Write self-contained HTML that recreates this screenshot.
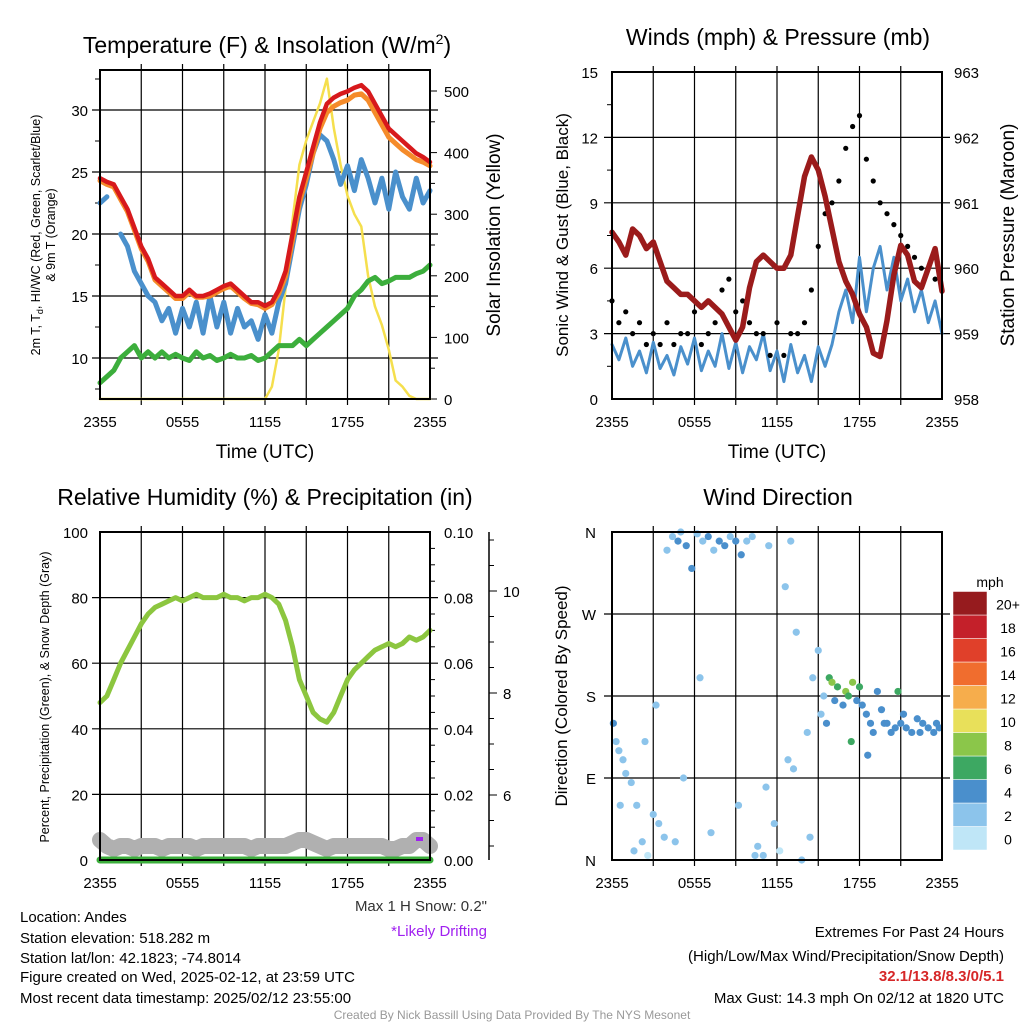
<!DOCTYPE html>
<html><head><meta charset="utf-8"><style>
body{margin:0;background:#fff;}
svg{display:block;font-family:"Liberation Sans",sans-serif;}
</style></head><body>
<svg id="c" width="1024" height="1024" viewBox="0 0 1024 1024">
<g id="txt" font-size="15" fill="#000">
<text x="267" y="53" text-anchor="middle" font-size="23">Temperature (F) &amp; Insolation (W/m<tspan dy="-9" font-size="14">2</tspan><tspan dy="9">)</tspan></text>
<text x="778" y="45" text-anchor="middle" font-size="23">Winds (mph) &amp; Pressure (mb)</text>
<text x="265" y="505" text-anchor="middle" font-size="23">Relative Humidity (%) &amp; Precipitation (in)</text>
<text x="778" y="505" text-anchor="middle" font-size="23">Wind Direction</text>
<text x="265" y="458" text-anchor="middle" font-size="19">Time (UTC)</text>
<text x="777" y="458" text-anchor="middle" font-size="19">Time (UTC)</text>
<text transform="translate(40,235) rotate(-90)" text-anchor="middle" font-size="12.5">2m T, T<tspan font-size="9" dy="3">d</tspan><tspan dy="-3">, HI/WC (Red, Green, Scarlet/Blue)</tspan></text>
<text transform="translate(55,235) rotate(-90)" text-anchor="middle" font-size="12.5">&amp; 9m T (Orange)</text>
<text transform="translate(500,235) rotate(-90)" text-anchor="middle" font-size="19">Solar Insolation (Yellow)</text>
<text transform="translate(568,235) rotate(-90)" text-anchor="middle" font-size="17">Sonic Wind &amp; Gust (Blue, Black)</text>
<text transform="translate(1014,235) rotate(-90)" text-anchor="middle" font-size="19">Station Pressure (Maroon)</text>
<text transform="translate(49,697) rotate(-90)" text-anchor="middle" font-size="12.5">Percent, Precipitation (Green), &amp; Snow Depth (Gray)</text>
<text transform="translate(567,696) rotate(-90)" text-anchor="middle" font-size="17">Direction (Colored By Speed)</text>
<text x="487" y="911" text-anchor="end" fill="#333">Max 1 H Snow: 0.2"</text>
<text x="487" y="936" text-anchor="end" fill="#a020f0">*Likely Drifting</text>
<text x="20" y="922">Location: Andes</text>
<text x="20" y="943">Station elevation: 518.282 m</text>
<text x="20" y="963">Station lat/lon: 42.1823; -74.8014</text>
<text x="20" y="982">Figure created on Wed, 2025-02-12, at 23:59 UTC</text>
<text x="20" y="1003">Most recent data timestamp: 2025/02/12 23:55:00</text>
<text x="1004" y="937" text-anchor="end">Extremes For Past 24 Hours</text>
<text x="1004" y="961" text-anchor="end">(High/Low/Max Wind/Precipitation/Snow Depth)</text>
<text x="1004" y="981" text-anchor="end" fill="#d62728" font-weight="bold">32.1/13.8/8.3/0/5.1</text>
<text x="1004" y="1003" text-anchor="end">Max Gust: 14.3 mph On 02/12 at 1820 UTC</text>
<text x="512" y="1019" text-anchor="middle" font-size="12" fill="#999">Created By Nick Bassill Using Data Provided By The NYS Mesonet</text>
<text x="990" y="587" text-anchor="middle" font-size="14">mph</text>
</g>
</svg>
<script>
const timeLabels=["2355","0555","1155","1755","2355"];
const tempRed=[24.5,24.2,24,23,22,20.5,19,18,16.5,16,15.5,15,15,15.5,15,15,15.2,15.5,15.8,16,15.5,15,14.5,14.5,14.2,14.5,15.5,17,20,23,25,27,29,30.5,31,31.3,31.5,31.8,32,31.5,30.5,29.5,28.5,28,27.5,27,26.5,26.2,25.8];
const tempOrange=[24.3,24,23.8,22.8,21.8,20.3,18.8,17.8,16.3,15.8,15.3,14.8,14.8,15.3,14.9,14.9,15,15.3,15.6,15.8,15.3,14.8,14.4,14.3,14,14.3,15.2,16.6,19.5,22.5,24.5,26.5,28.5,29.8,30.3,30.6,30.8,31.2,31.3,30.8,29.8,28.8,27.8,27.3,26.8,26.4,26,25.8,25.5];
const heatIndexBlue=[22.5,23,null,20,19,17,16,15,14.5,13,14,12,14,12.5,14.5,12,15,12.5,14.5,12,14,12.5,13,11.5,13.5,12,14.5,16,19,22,24,26.5,28,27.5,26,24,25.5,23.5,26,24.5,22.5,24.5,22,25,23,22,24.5,22.5,23.5];
const dewGreen=[8,8.5,9,10,10.5,11,10,10.5,10,10.5,10,10.3,10,9.8,10.5,10,10.2,9.8,10,10.3,10,10,10.2,9.8,10,10.5,11,11,11,11.5,11,11.5,12,12.5,13,13.5,14,15,15.5,16.2,16.5,16,16.2,16.5,16.5,16.5,16.8,17,17.5];
const insolation=[0,0,0,0,0,0,0,0,0,0,0,0,0,0,0,0,0,0,0,0,0,0,0,0,0,20,80,180,290,380,420,450,480,520,440,380,330,300,280,200,150,120,80,30,20,5,0,0,0];
const windSpeed=[2.5,1.8,2.8,1.5,2.2,1.2,2.6,1.4,2,1.1,2.4,1.6,2.8,1.3,2.2,1.5,3,1.4,2.6,1.2,2.4,1.8,3,1.3,2.2,0.8,2.5,1.2,2,0.8,2.4,1.5,2.5,4,5,3.5,6.5,4,6,7,5,6.5,4.5,5.5,4,5,3.5,4.5,3];
const windGust=[4.5,3.5,4,3,3.5,2.5,3,2.5,3.5,2.5,3,3,4,2.5,3,3.5,5,5.5,4,4.5,3.5,3,3,2,3.5,2,3,3,3.5,5,7,8.5,9,10,11.5,12.5,13,11,10,9,8.5,8,7.5,7,6.5,6,6,5.5,5];
const pressure=[960.55,960.4,960.2,960.6,960.5,960.3,960.4,960.1,959.8,959.7,959.6,959.6,959.5,959.4,959.5,959.4,959.3,959.1,958.9,959.1,959.7,960.1,960.2,960.1,960,960,960.2,960.8,961.4,961.7,961.5,961.1,960.6,960.1,959.8,959.6,959.3,959.1,958.7,958.65,959.2,959.9,960.35,960.2,959.8,959.7,960,960.3,959.65];
const relHumidity=[48,50,55,60,64,68,72,75,77,78,79,80,79,80,81,80,80,80,81,80,80,79,80,80,81,80,78,73,65,55,50,45,43,42,45,50,55,58,60,62,64,65,66,65,66,68,67,68,70];
const snowDepth=[5.1,5.0,4.95,5.0,5.0,4.95,5.0,5.0,5.0,4.95,5.0,5.0,5.0,5.0,4.95,5.0,5.0,5.0,5.0,5.0,5.0,5.0,4.95,5.0,5.0,5.0,5.0,5.0,5.05,5.1,5.1,5.05,5.0,4.95,5.0,5.0,5.0,5.0,5.0,5.0,5.0,5.0,4.95,4.95,5.0,5.0,5.1,5.1,5.0];
const precip=[0,0,0,0,0,0,0,0,0,0,0,0,0,0,0,0,0,0,0,0,0,0,0,0,0,0,0,0,0,0,0,0,0,0,0,0,0,0,0,0,0,0,0,0,0,0,0,0,0];
const dirHour=[0.1,0.3,0.5,0.8,1,1.4,1.8,2.2,2.6,3,3.4,3.8,4,4.4,4.8,5,5.4,5.8,6.2,6.6,7,7.4,7.8,8.2,8.6,9,9.4,9.8,10.2,10.6,11,11.4,11.8,12.2,12.6,13,13.4,13.8,14.2,14.6,15,15.4,15.6,15.8,16,16.4,16.8,17,17.2,17.5,17.8,18,18.2,18.5,18.8,19,19.3,19.6,20,20.3,20.6,21,21.4,21.8,22.2,22.6,23,23.4,23.8,3.2,5.2,7.2,9.2,11.2,13.2,2.4,4.6,1.6,0.6,6.4,10.4,12.8,14.4,15.2,16.2,17.4,18.6,19.8,21.2,22.4,23.6,20.8];
const dirDeg=[150,130,120,110,95,85,60,20,5,50,40,25,340,355,350,360,345,320,358,350,355,340,350,345,355,350,335,350,355,15,5,345,40,10,300,350,250,0,140,200,230,180,150,200,195,190,170,185,180,195,175,190,170,160,150,140,185,165,150,140,145,150,145,140,155,150,145,140,145,170,90,30,60,80,100,130,20,10,60,200,5,110,25,160,175,130,115,150,160,140,150,185];
const dirSpeed=[3,2,2,1,1,1,1,1,0,1,1,1,1,2,3,2,3,3,2,2,3,2,3,3,2,3,3,2,2,1,1,2,1,0,1,2,1,1,2,1,1,2,4,6,7,5,4,8,6,7,4,6,4,4,4,3,4,3,3,4,3,4,3,4,4,3,4,3,4,1,1,1,2,2,2,1,1,1,1,2,1,1,1,2,4,6,4,4,3,4,4,5];
const svg=document.getElementById('c');
const NS='http://www.w3.org/2000/svg';
function mk(tag,attrs,parent){const e=document.createElementNS(NS,tag);for(const k in attrs)e.setAttribute(k,attrs[k]);(parent||svg).appendChild(e);return e;}
function lin(d0,d1,r0,r1){return v=>r0+(v-d0)*(r1-r0)/(d1-d0);}
function frame(name){
  const g=mk('g',{});
  
  
  return g;
}
function grid(g,x0,y0,x1,y1,xs,ys){
  xs.forEach(x=>{const l=mk('line',{x1:x,x2:x,y1:y0-6,y2:y1+6,stroke:'#000','stroke-width':1.2},g);});
  ys.forEach(y=>{const l=mk('line',{x1:x0-8,x2:x1+8,y1:y,y2:y,stroke:'#000','stroke-width':1.2},g);});
}
function box(g,x0,y0,x1,y1){const r=mk('rect',{x:x0,y:y0,width:x1-x0,height:y1-y0,fill:'none',stroke:'#000','stroke-width':2},g);}
function label(g,x,y,t,anchor,size,name){const e=mk('text',{x:x,y:y,'text-anchor':anchor||'middle','font-size':size||15},g);e.textContent=t;return e;}
function path(g,pts,color,w,name){
  let d='';let pen=false;
  pts.forEach(p=>{if(p==null||p[1]==null||isNaN(p[1])){pen=false;return;}d+=(pen?'L':'M')+p[0].toFixed(1)+' '+p[1].toFixed(1);pen=true;});
  const e=mk('path',{d:d,fill:'none',stroke:color,'stroke-width':w,'stroke-linejoin':'round','stroke-linecap':'round'},g);
  return e;
}
function xTicks(g,X,yb){
  const xs=[];for(let h=3;h<24;h+=3)xs.push(X(h));
  timeLabels.forEach((t,i)=>label(g,X(i*6),yb+28,t,'middle',15,'x-tick-label'));
  return xs;
}
function minor(g,x,ys,dir){ys.forEach(y=>{const l=mk('line',{x1:x,x2:x+dir*5,y1:y,y2:y,stroke:'#000','stroke-width':1},g);});}
const hrs=tempRed.map((_,i)=>i*0.5);

(function(){
  const x0=100,x1=430,y0=70,y1=399;
  const g=frame('temperature-panel');
  const X=lin(0,24,x0,x1),Y=lin(10,30,358,110),R=lin(0,500,399,91);
  grid(g,x0,y0,x1,y1,xTicks(g,X,y1),[10,15,20,25,30].map(Y));
  [10,15,20,25,30].forEach(v=>label(g,x0-12,Y(v)+6,String(v),'end',15,'y-tick-label'));
  [0,100,200,300,400,500].forEach(v=>{label(g,x1+14,R(v)+6,String(v),'start',15,'right-tick-label');const l=mk('line',{x1:x1,x2:x1+7,y1:R(v),y2:R(v),stroke:'#000'},g);});
  minor(g,x0,[7.5,12.5,17.5,22.5,27.5,32.5].map(Y),-1);
  minor(g,x1,[50,150,250,350,450].map(R),1);
  path(g,hrs.map((h,i)=>[X(h),R(insolation[i])]),'#f5df4d',2.5,'insolation-line');
  path(g,hrs.map((h,i)=>[X(h),Y(dewGreen[i])]),'#3cae3c',5,'dewpoint-line');
  path(g,hrs.map((h,i)=>heatIndexBlue[i]==null?null:[X(h),Y(heatIndexBlue[i])]),'#4a90cc',5,'heat-index-line');
  path(g,hrs.map((h,i)=>[X(h),Y(tempOrange[i])]),'#f58b2a',5,'temp-9m-line');
  path(g,hrs.map((h,i)=>[X(h),Y(tempRed[i])]),'#d7191c',4.5,'temp-2m-line');
  box(g,x0,y0,x1,y1);
})();

(function(){
  const x0=612,x1=942,y0=72,y1=399;
  const g=frame('wind-panel');
  const X=lin(0,24,x0,x1),Y=lin(0,15,399,72),P=lin(958,963,399,72);
  grid(g,x0,y0,x1,y1,xTicks(g,X,y1),[3,6,9,12].map(Y));
  [0,3,6,9,12,15].forEach(v=>label(g,x0-14,Y(v)+6,String(v),'end',15,'y-tick-label'));
  [958,959,960,961,962,963].forEach(v=>label(g,x1+12,P(v)+6,String(v),'start',15,'right-tick-label'));
  minor(g,x0,[1.5,4.5,7.5,10.5,13.5].map(Y),-1);
  path(g,hrs.map((h,i)=>[X(h),Y(windSpeed[i])]),'#4a90cc',3,'wind-speed-line');
  windGust.forEach((v,i)=>{const c=mk('circle',{cx:X(hrs[i]),cy:Y(v),r:2.6,fill:'#000'},g);});
  path(g,hrs.map((h,i)=>[X(h),P(pressure[i])]),'#9b1b1b',5.5,'pressure-line');
  box(g,x0,y0,x1,y1);
})();

(function(){
  const x0=100,x1=430,y0=532,y1=860;
  const g=frame('humidity-panel');
  const X=lin(0,24,x0,x1),Y=lin(0,100,y1,y0),S=lin(6,10,795,591);
  grid(g,x0,y0,x1,y1,xTicks(g,X,y1),[20,40,60,80].map(Y));
  [0,20,40,60,80,100].forEach(v=>label(g,x0-12,Y(v)+6,String(v),'end',15,'y-tick-label'));
  ['0.00','0.02','0.04','0.06','0.08','0.10'].forEach((t,i)=>label(g,x1+14,Y(i*20)+6,t,'start',15,'right-tick-label'));
  minor(g,x1,[5,10,15,25,30,35,45,50,55,65,70,75,85,90,95].map(Y),1);
  const ax=mk('line',{x1:489,x2:489,y1:y0,y2:y1,stroke:'#000','stroke-width':1.5},g);
  [6,8,10].forEach(v=>{label(g,503,S(v)+6,String(v),'start',15,'snow-tick-label');});
  for(let v=5;v<=11;v+=0.5){const l=mk('line',{x1:489,x2:v%2==0?497:494,y1:S(v),y2:S(v),stroke:'#000'},g);}
  path(g,hrs.map((h,i)=>[X(h),y1-8-(snowDepth[i]-4.9)*60]),'#b0b0b0',16,'snow-depth-line');
  path(g,hrs.map((h,i)=>[X(h),Y(precip[i]*1000)]),'#3cae3c',7,'precip-line');
  const pu=mk('line',{x1:416,x2:423,y1:839,y2:839,stroke:'#a020f0','stroke-width':4},g);
  path(g,hrs.map((h,i)=>[X(h),Y(relHumidity[i])]),'#8cc63f',5,'rh-line');
  box(g,x0,y0,x1,y1);
})();

(function(){
  const x0=612,x1=942,y0=532,y1=860;
  const g=frame('direction-panel');
  const X=lin(0,24,x0,x1),Y=lin(0,360,y1,y0);
  grid(g,x0,y0,x1,y1,xTicks(g,X,y1),[90,180,270].map(Y));
  ['N','E','S','W','N'].forEach((t,i)=>label(g,x0-16,Y(i*90)+6,t,'end',15,'y-tick-label'));
  const colors=['#bfe6f7','#8cc4eb','#4a8fcc','#3da862','#8bc64a','#e8e05a','#f6ad4c','#f06d2e','#e0402a','#c4202a','#961b1e'];
  const labels=['0','2','4','6','8','10','12','14','16','18','20+'];
  dirDeg.forEach((d,i)=>{const k=Math.min(10,Math.floor(dirSpeed[i]/2+0.5));const c=mk('circle',{cx:X(dirHour[i]),cy:Y(d),r:3.6,fill:colors[k]},g);});
  box(g,x0,y0,x1,y1);
  const cb=mk('g',{},svg);
  const h=23.5;
  colors.forEach((c,i)=>{const y=850-(i+1)*h;const r=mk('rect',{x:953,y:y,width:34,height:h,fill:c,stroke:'#fff','stroke-width':0.5},cb);
    label(cb,1008,y+h/2+6,labels[i],'middle',14,'colorbar-label');});
})();
</script>
</body></html>
